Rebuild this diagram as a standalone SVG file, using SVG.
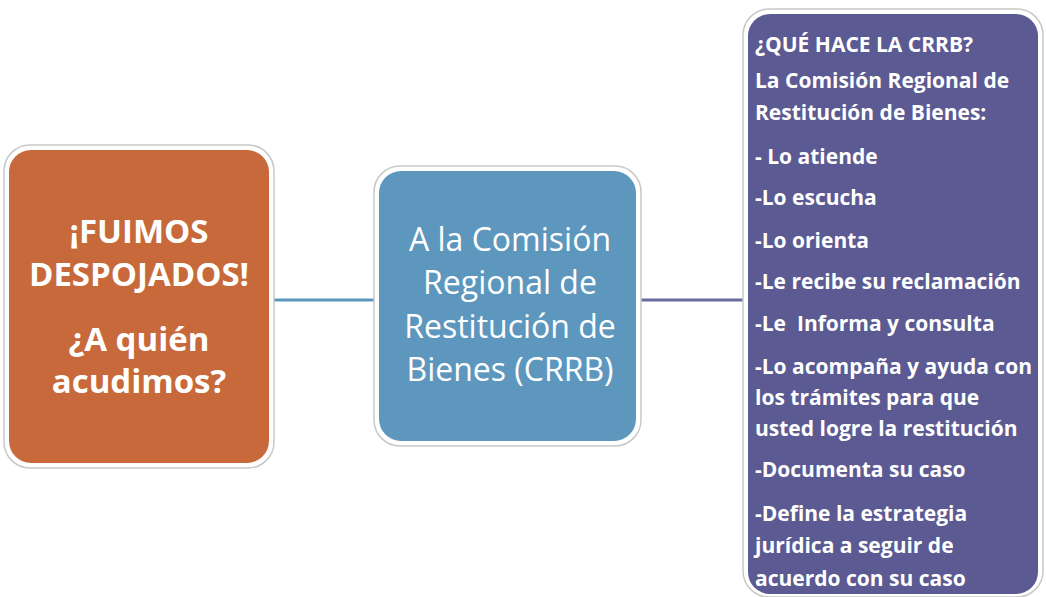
<svg xmlns="http://www.w3.org/2000/svg" width="1046" height="597" viewBox="0 0 1046 597">
<style>
.frame{fill:#ffffff;stroke:#c8c8c8;stroke-width:1.5}
.t{fill:#ffffff;font-family:"Open Sans","Liberation Sans",sans-serif}
.big{font-weight:bold;font-size:33px;text-anchor:middle}
.mid{font-size:32px;text-anchor:middle}
.list{font-weight:bold;font-size:21px}
</style>
<rect width="1046" height="597" fill="#ffffff"/>
<g id="connectors">
<line x1="272" y1="300" x2="377" y2="300" stroke="#5b97bd" stroke-width="3"/>
<line x1="640" y1="300" x2="746" y2="300" stroke="#6a6aa0" stroke-width="3"/>
</g>
<g id="node-despojados">
<rect class="frame" x="4" y="145" width="270" height="323" rx="26"/>
<rect x="9" y="150" width="260" height="313" rx="22" fill="#c7693a"/>
<text class="t big" x="139" y="243">¡FUIMOS</text>
<text class="t big" x="139" y="286">DESPOJADOS!</text>
<text class="t big" x="139" y="351">¿A quién</text>
<text class="t big" x="139" y="393">acudimos?</text>
</g>
<g id="node-crrb">
<rect class="frame" x="374" y="166" width="267" height="280" rx="26"/>
<rect x="379" y="171" width="257" height="270" rx="22" fill="#5d97bd"/>
<text class="t mid" x="510" y="251">A la Comisión</text>
<text class="t mid" x="510" y="294">Regional de</text>
<text class="t mid" x="510" y="338">Restitución de</text>
<text class="t mid" x="510" y="381">Bienes (CRRB)</text>
</g>
<g id="node-que-hace">
<rect class="frame" x="743" y="9" width="300" height="588" rx="26"/>
<rect x="748" y="14" width="290" height="580" rx="22" fill="#5b5a92"/>
<text class="t list" x="755" y="52">¿QUÉ HACE LA CRRB?</text>
<text class="t list" x="755" y="88">La Comisión Regional de</text>
<text class="t list" x="755" y="120">Restitución de Bienes:</text>
<text class="t list" x="755" y="164">- Lo atiende</text>
<text class="t list" x="755" y="205">-Lo escucha</text>
<text class="t list" x="755" y="248">-Lo orienta</text>
<text class="t list" x="755" y="289">-Le recibe su reclamación</text>
<text class="t list" x="755" y="331" xml:space="preserve">-Le  Informa y consulta</text>
<text class="t list" x="755" y="374">-Lo acompaña y ayuda con</text>
<text class="t list" x="755" y="405">los trámites para que</text>
<text class="t list" x="755" y="436">usted logre la restitución</text>
<text class="t list" x="755" y="477">-Documenta su caso</text>
<text class="t list" x="755" y="521">-Define la estrategia</text>
<text class="t list" x="755" y="553">jurídica a seguir de</text>
<text class="t list" x="755" y="586">acuerdo con su caso</text>
</g>
</svg>
